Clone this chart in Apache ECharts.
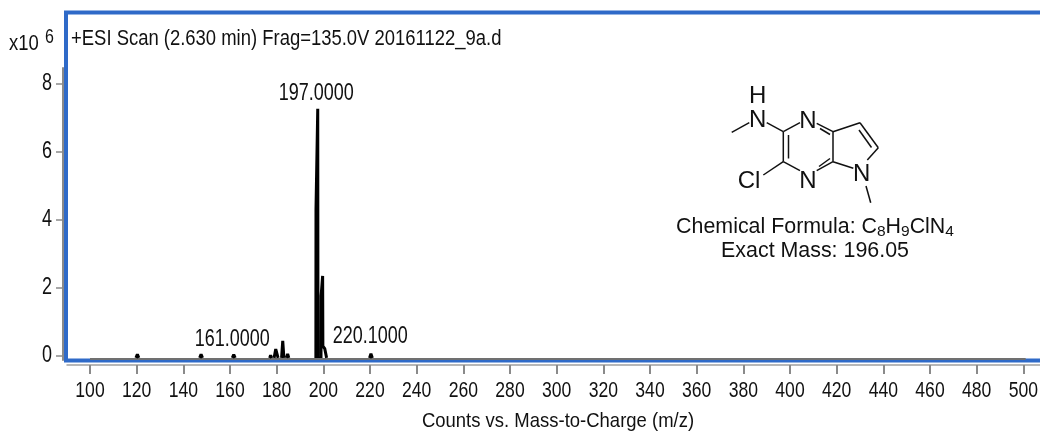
<!DOCTYPE html>
<html>
<head>
<meta charset="utf-8">
<style>html,body{margin:0;padding:0;background:#fff}#c{width:1040px;height:434px}</style>
<script src="https://cdn.jsdelivr.net/npm/echarts@6/dist/echarts.min.js"></script>
</head>
<body>
<div id="c"></div>
<script>
const xTicks = [100,120,140,160,180,200,220,240,260,280,300,320,340,360,380,400,420,440,460,480,500];
const yTicks = [0,2,4,6,8];
const peakMz = [119.7,120.3,120.9,null,147.0,147.6,148.2,null,161.0,161.6,162.2,null,177.0,177.4,177.8,null,178.9,179.6,180.2,180.6,null,182.1,182.6,183.1,null,184.2,184.7,185.2,null,196.8,196.85,197.6,197.7,null,199.0,199.05,199.7,199.8,200.6,201.4,null,219.8,220.4,221.0];
const peakInt = [-0.07,0.04,-0.07,null,-0.07,0.04,-0.07,null,-0.07,0.03,-0.07,null,-0.07,0.01,-0.07,null,-0.07,0.19,0.14,-0.07,null,-0.07,0.43,-0.07,null,-0.07,0.05,-0.07,null,-0.07,4.3,7.26,-0.07,null,-0.07,1.75,2.34,0.28,0.2,-0.07,null,-0.07,0.05,-0.07];
const baseMz = [100,501];
const baseInt = [-0.1,-0.1];
const annotMz = [197,161,220.1];
const annotInt = [7.26,0.04,0.05];
const titleText = '+ESI Scan (2.630 min) Frag=135.0V 20161122_9a.d';
const xName = 'Counts vs. Mass-to-Charge (m/z)';

// No narrow face is installed: condense text drawn with this family horizontally.
const NARROW = '"Liberation Sans Narrow","Liberation Sans",sans-serif';
const SANS = '"Liberation Sans",sans-serif';
const narrowScale = {'21.5':0.858,'21':0.88,'22':0.8,'24':0.75,'20':0.8};
const origFill = CanvasRenderingContext2D.prototype.fillText;
CanvasRenderingContext2D.prototype.fillText = function(t,x,y,w){
  const f = this.font;
  if (f.indexOf('Narrow') >= 0) {
    const m = f.match(/([\d.]+)px/);
    const s = narrowScale[m ? String(parseFloat(m[1])) : ''] || 0.8;
    this.save(); this.translate(x,y); this.scale(s,1);
    origFill.call(this,t,0,0);
    this.restore();
    return;
  }
  return origFill.call(this,t,x,y,w);
};

const bonds = [
 [731.7,132.3,749.3,122.7],[766.7,122.7,783.3,131.7],[783.3,131.7,800,122.7],[816.7,123.3,833,131.7],
 [820,128.5,830,134.5],[833,131.7,833,161.7],[833,161.7,816.7,170.7],[830,158.5,819,166.5],
 [800,170.7,783.3,161.7],[783.3,131.7,783.3,161.7],[788.5,135,788.5,158.5],[763.3,175,783.3,161.7],
 [833,131.7,860,122.7],[860,122.7,878.3,147.7],[859,130,871.5,147.5],[878.3,147.7,867.3,160],
 [853.3,168.3,833,161.7],[866,186,870.7,202.7]
];
const atoms = [['H',757.7,96],['N',757.7,120],['N',808,121],['N',808,181],['N',861.7,174],['Cl',749,181]];
const textG = (x,y,text,font,size,align) => ({type:'text',z:5,style:{x,y,text,fill:'#111',font:size+'px '+font,textAlign:align||'center',textVerticalAlign:'middle'}});

const graphic = [
 {type:'rect',z:1,shape:{x:66,y:12.5,width:1000,height:348},style:{fill:'none',stroke:'#2f6ac8',lineWidth:4}},
 textG(71,39,titleText,NARROW,21.5,'left'),
 textG(9,44,'x10',NARROW,21.5,'left'),
 textG(45,37,'6',NARROW,20,'left')
].concat(bonds.map(b=>({type:'line',z:5,shape:{x1:b[0],y1:b[1],x2:b[2],y2:b[3]},style:{stroke:'#111',lineWidth:1.5}})))
 .concat(atoms.map(a=>textG(a[1],a[2],a[0],SANS,24)))
 .concat([
  {type:'text',z:5,style:{x:815,y:227,textAlign:'center',textVerticalAlign:'middle',
    rich:{t:{font:'21.4px '+SANS,fill:'#111'},s:{font:'15.5px '+SANS,fill:'#111',padding:[9,0,0,0]}},
    text:'{t|Chemical Formula: C}{s|8}{t|H}{s|9}{t|ClN}{s|4}'}},
  textG(815,251,'Exact Mass: 196.05',SANS,21.4)
 ]);

const axisGray = '#8a8a8a';
const chart = echarts.init(document.getElementById('c'),null,{renderer:'canvas'});
chart.setOption({
 animation:false,
 backgroundColor:'#fff',
 grid:{left:67,right:0,top:68,bottom:74,containLabel:false,outerBoundsMode:'none'},
 xAxis:{type:'value',min:90.14,max:507.14,offset:5,
  axisLine:{show:true,onZero:false,lineStyle:{color:'#a0a0a0',width:1.5}},
  axisTick:{show:true,length:9,customValues:xTicks,lineStyle:{color:axisGray,width:2}},
  axisLabel:{show:true,customValues:xTicks,margin:15,color:'#111',fontFamily:NARROW,fontSize:22,formatter:v=>String(v),hideOverlap:false,showMinLabel:true,showMaxLabel:true},
  splitLine:{show:false},
  name:xName,nameLocation:'middle',nameGap:46,
  nameTextStyle:{color:'#111',fontFamily:NARROW,fontSize:21,padding:[0,0,0,9]}
 },
 yAxis:{type:'value',min:-0.132,max:8.456,offset:4,
  axisLine:{show:true,onZero:false,lineStyle:{color:axisGray,width:2}},
  axisTick:{show:true,length:7,customValues:yTicks,lineStyle:{color:axisGray,width:1.5}},
  axisLabel:{show:true,customValues:yTicks,margin:11,padding:[4,0,0,0],color:'#111',fontFamily:NARROW,fontSize:24,formatter:v=>String(v)},
  splitLine:{show:false}
 },
 series:[
  {type:'line',z:3,data:baseMz.map((m,i)=>[m,baseInt[i]]),showSymbol:false,silent:true,lineStyle:{color:'#707070',width:2}},
  {type:'line',z:4,data:peakMz.map((m,i)=>m===null?[NaN,NaN]:[m,peakInt[i]]),showSymbol:false,connectNulls:false,silent:true,lineStyle:{color:'#000',width:3,join:'miter',miterLimit:2}},
  {type:'scatter',z:5,symbolSize:0,silent:true,itemStyle:{opacity:1},
   data:annotMz.map((m,i)=>({value:[m,annotInt[i]],label:{distance:[3,3,5][i]}})),
   label:{show:true,position:'top',color:'#111',opacity:1,fontFamily:NARROW,fontSize:24,formatter:p=>p.value[0].toFixed(4)}}
 ],
 graphic:graphic
});
</script>
</body>
</html>
